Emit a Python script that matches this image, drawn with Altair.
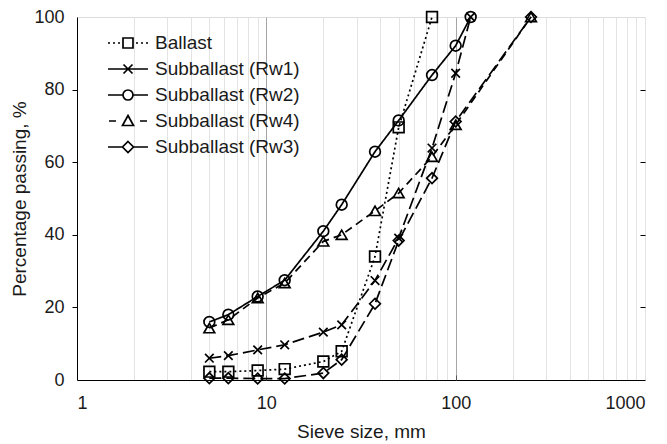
import altair as alt
import pandas as pd

# ---- data ----
series_names = ["Ballast", "Subballast (Rw1)", "Subballast (Rw2)", "Subballast (Rw4)", "Subballast (Rw3)"]

ballast_sizes = [5, 6.3, 9, 12.5, 20, 25, 37.5, 50, 75]
ballast_pct = [2.3, 2.3, 2.6, 3.0, 5.1, 7.9, 34.0, 69.6, 100]

rw1_sizes = [5, 6.3, 9, 12.5, 20, 25, 37.5, 50, 75, 100, 120]
rw1_pct = [6.0, 6.7, 8.3, 9.7, 13.2, 15.2, 27.4, 39.1, 63.9, 84.5, 100]

rw2_sizes = [5, 6.3, 9, 12.5, 20, 25, 37.5, 50, 75, 100, 120]
rw2_pct = [16.0, 18.0, 23.0, 27.5, 41.0, 48.3, 62.9, 71.5, 84.0, 92.1, 100]

rw4_sizes = [5, 6.3, 9, 12.5, 20, 25, 37.5, 50, 75, 100, 250]
rw4_pct = [14.3, 16.6, 22.6, 26.7, 38.2, 40.0, 46.6, 51.5, 61.5, 70.3, 100]

rw3_sizes = [5, 6.3, 9, 12.5, 20, 25, 37.5, 50, 75, 100, 250]
rw3_pct = [0.5, 0.5, 0.4, 0.4, 1.9, 5.6, 21.0, 38.4, 55.6, 71.2, 100]

x_major = [1, 10, 100, 1000]
x_ticks = [1, 2, 3, 4, 5, 6, 7, 8, 9, 10, 20, 30, 40, 50, 60, 70, 80, 90,
           100, 200, 300, 400, 500, 600, 700, 800, 900, 1000]
y_ticks = [0, 20, 40, 60, 80, 100]

# ---- styles ----
dashes = [[2, 3], [12, 5], [1, 0], [8, 5], [12, 5]]
marker_shapes = [
    "square",
    "M-0.8,-0.8L0.8,0.8M-0.8,0.8L0.8,-0.8",
    "circle",
    "triangle-up",
    "diamond",
]
legend_paths = [
    "M-2,0h0.2M-1.5,0h0.2M-1,0h0.2M0.8,0h0.2M1.3,0h0.2M1.8,0h0.2M-0.5,-0.5h1v1h-1z",
    "M-2,0H2M-0.45,-0.45L0.45,0.45M-0.45,0.45L0.45,-0.45",
    "M-2,0H-0.5M0.5,0H2M0.5,0A0.5,0.5 0 1,1 -0.5,0A0.5,0.5 0 1,1 0.5,0",
    "M-1.9,0H-1.2M1.2,0H1.9M0,-0.55L0.55,0.45H-0.55Z",
    "M-2,0H-0.55M0.55,0H2M0,-0.55L0.55,0L0,0.55L-0.55,0Z",
]

rows = []
for name, xs, ys in zip(series_names,
                        [ballast_sizes, rw1_sizes, rw2_sizes, rw4_sizes, rw3_sizes],
                        [ballast_pct, rw1_pct, rw2_pct, rw4_pct, rw3_pct]):
    for xv, yv in zip(xs, ys):
        rows.append({"series": name, "size": xv, "pct": yv})
df = pd.DataFrame(rows)

FONT = "Liberation Sans"
TXT = "#1a1a1a"
SW = 1.7

xscale = alt.Scale(type="log", domain=[1, 1000])
yscale = alt.Scale(domain=[0, 100])

x_axis = alt.Axis(
    values=x_ticks, grid=True,
    gridColor={"condition": {"test": "indexof([10, 100], datum.value) >= 0", "value": "#a6a6a6"}, "value": "#e3e3e3"},
    gridWidth=1,
    ticks=False, domainColor="black", domainWidth=1,
    labelExpr="indexof([1, 10, 100, 1000], datum.value) >= 0 ? '' + datum.value : ''",
    labelOverlap=False, labelFont=FONT, labelFontSize=18, labelColor=TXT, labelPadding=14,
    title="Sieve size, mm", titleFont=FONT, titleFontSize=19, titleFontWeight="normal",
    titleColor=TXT, titlePadding=10,
)
y_axis = alt.Axis(
    values=y_ticks, grid=False, tickSize=5, tickColor="black",
    tickOpacity={"condition": {"test": "datum.value > 0 && datum.value < 100", "value": 1}, "value": 0},
    domainColor="black", domainWidth=1,
    labelFont=FONT, labelFontSize=18, labelColor=TXT, labelPadding=8,
    title="Percentage passing, %", titleFont=FONT, titleFontSize=19, titleFontWeight="normal",
    titleColor=TXT, titlePadding=4,
)

base = alt.Chart(df)

lines = base.mark_line(color="black", strokeWidth=SW).encode(
    x=alt.X("size:Q", scale=xscale, axis=x_axis),
    y=alt.Y("pct:Q", scale=yscale, axis=y_axis),
    strokeDash=alt.StrokeDash("series:N", scale=alt.Scale(domain=series_names, range=dashes), legend=None),
)

points = base.mark_point(filled=False, color="black", strokeWidth=SW, size=115, opacity=1).encode(
    x=alt.X("size:Q", scale=xscale, axis=None),
    y=alt.Y("pct:Q", scale=yscale, axis=None),
    shape=alt.Shape("series:N", scale=alt.Scale(domain=series_names, range=marker_shapes), legend=None),
)

legend_layer = base.transform_filter("false").mark_point(
    filled=False, color="black", strokeWidth=SW, size=400, opacity=1
).encode(
    x=alt.X("size:Q", scale=xscale, axis=alt.Axis(
        orient="bottom", offset=-5, values=[10, 100], domain=False, labels=False,
        grid=False, tickSize=5, tickColor="#555555", title=None)),
    y=alt.Y("pct:Q", scale=yscale, axis=alt.Axis(
        orient="right", offset=-5, values=[20, 40, 60, 80], domain=False, labels=False,
        grid=False, tickSize=5, tickColor="black", title=None)),
    shape=alt.Shape("series:N", scale=alt.Scale(domain=series_names, range=legend_paths),
                    legend=alt.Legend(
                        orient="none", legendX=40, legendY=15, title=None,
                        symbolSize=400, symbolStrokeWidth=SW, symbolStrokeColor="black",
                        symbolFillColor="transparent",
                        labelOffset=16, labelFont=FONT, labelFontSize=19, labelColor=TXT,
                        labelLimit=400, rowPadding=5, padding=0)),
)

chart = alt.layer(lines, points, legend_layer).resolve_scale(
    shape="independent"
).resolve_axis(
    x="independent", y="independent"
).properties(
    width=568, height=363, autosize="none",
    padding={"left": 77, "top": 17, "right": 22, "bottom": 64},
).configure_view(
    stroke="black", strokeWidth=1
).configure(background="white")

chart.save("out.html", embed_options={"renderer": "svg", "actions": False})
